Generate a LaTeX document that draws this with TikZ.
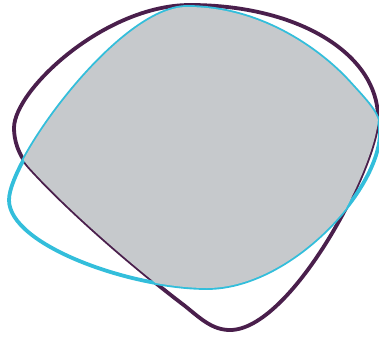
\documentclass[tikz,border=0pt]{standalone}
\definecolor{plum}{HTML}{4A1F4C}
\definecolor{sky}{HTML}{33BEDB}
\definecolor{overlap}{HTML}{C6C9CC}
\def\plumshape{(190,5) .. controls (300,5) and (378,55) .. (378,118)
    .. controls (376,170) and (290,330) .. (230,330)
    .. controls (212,330) and (200,318) .. (185,306)
    .. controls (135,268) and (70,212) .. (30,168)
    .. controls (18,155) and (14,140) .. (14,128)
    .. controls (14,90) and (105,5) .. cycle}
\def\skyshape{(187,7) .. controls (265,7) and (325,55) .. (350,83)
    .. controls (370,105) and (380,115) .. (380,132)
    .. controls (380,190) and (290,288) .. (207,288)
    .. controls (130,288) and (9,245) .. (9,200)
    .. controls (9,160) and (120,7) .. cycle}
\begin{document}
\begin{tikzpicture}[x=1pt, y=-1pt,
    outline/.style={line width=3.8pt, line join=round}]
    \useasboundingbox (0,0) rectangle (379,337);
    \draw [outline, plum] \plumshape;
    \draw [outline, sky] \skyshape;
    % shared part, laid over the inner half of both lines
    \begin{scope}
        \clip \plumshape;
        \fill [overlap] \skyshape;
    \end{scope}
\end{tikzpicture}
\end{document}
